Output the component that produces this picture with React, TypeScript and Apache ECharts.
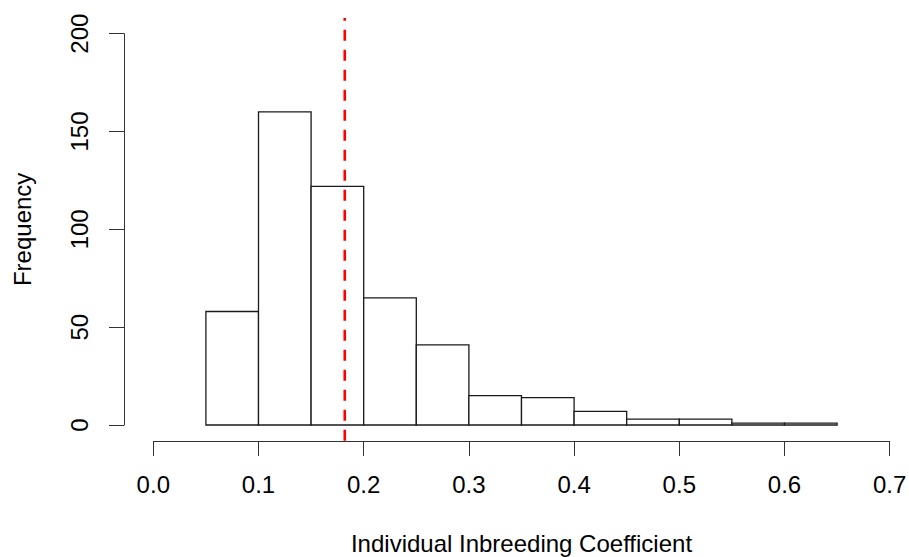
import React, { useEffect, useRef } from "react";
import * as echarts from "echarts";

const binEdges = [0.05, 0.1, 0.15, 0.2, 0.25, 0.3, 0.35, 0.4, 0.45, 0.5, 0.55, 0.6, 0.65];
const counts = [58, 160, 122, 65, 41, 15, 14, 7, 3, 3, 1, 1];
const meanValue = 0.182;
const xTicks = [0, 0.1, 0.2, 0.3, 0.4, 0.5, 0.6, 0.7];
const yTicks = [0, 50, 100, 150, 200];
const plotYLow = -8;
const plotYHigh = 208;

const FONT = "'Liberation Sans', Arial, Helvetica, sans-serif";
const FS = 24;

export default function App() {
  const ref = useRef<HTMLDivElement>(null);
  useEffect(() => {
    if (!ref.current) return;
    const chart = echarts.init(ref.current, null, { renderer: "svg" });
    const bins = counts.map((c, i) => [binEdges[i], binEdges[i + 1], c]);
    chart.setOption({
      animation: false,
      backgroundColor: "#ffffff",
      textStyle: { fontFamily: FONT },
      grid: {
        left: 153.3,
        right: 19.3,
        top: 33.7,
        bottom: 132,
        containLabel: false,
        outerBoundsMode: "none",
      },
      xAxis: {
        type: "value",
        min: xTicks[0],
        max: xTicks[xTicks.length - 1],
        interval: 0.1,
        offset: 16,
        splitLine: { show: false },
        axisLine: { show: true, onZero: false, lineStyle: { color: "#333", width: 1 } },
        axisTick: { show: true, length: 15, lineStyle: { color: "#333", width: 1 } },
        axisLabel: {
          margin: 31,
          color: "#000",
          fontSize: FS,
          fontFamily: FONT,
          formatter: (v: number) => v.toFixed(1),
        },
        name: "Individual Inbreeding Coefficient",
        nameLocation: "middle",
        nameGap: 90,
        nameTextStyle: { color: "#000", fontSize: FS, fontFamily: FONT },
      },
      yAxis: {
        type: "value",
        min: yTicks[0],
        max: yTicks[yTicks.length - 1],
        interval: 50,
        offset: 29.3,
        splitLine: { show: false },
        axisLine: { show: true, onZero: false, lineStyle: { color: "#333", width: 1 } },
        axisTick: { show: true, length: 15, lineStyle: { color: "#333", width: 1 } },
        axisLabel: {
          margin: 33,
          rotate: 90,
          color: "#000",
          fontSize: FS,
          fontFamily: FONT,
        },
        name: "Frequency",
        nameLocation: "middle",
        nameGap: 90,
        nameRotate: 90,
        nameTextStyle: { color: "#000", fontSize: FS, fontFamily: FONT },
      },
      series: [
        {
          type: "custom",
          data: bins,
          encode: { x: [0, 1], y: 2 },
          renderItem: (params: any, api: any) => {
            const p1 = api.coord([api.value(0), api.value(2)]);
            const p2 = api.coord([api.value(1), 0]);
            return {
              type: "rect",
              shape: { x: p1[0], y: p1[1], width: p2[0] - p1[0], height: p2[1] - p1[1] },
              style: { fill: "#ffffff", stroke: "#1a1a1a", lineWidth: 1.3 },
            };
          },
        },
        {
          type: "line",
          data: [
            [meanValue, plotYLow],
            [meanValue, plotYHigh],
          ],
          symbol: "none",
          clip: false,
          lineStyle: { color: "#ff0000", width: 2.6, type: [11, 9] },
          z: 5,
        },
      ],
    });
    return () => chart.dispose();
  }, []);
  return (
    <div
      ref={ref}
      style={{ position: "fixed", left: 0, top: 0, width: 909, height: 557, background: "#fff" }}
    />
  );
}
